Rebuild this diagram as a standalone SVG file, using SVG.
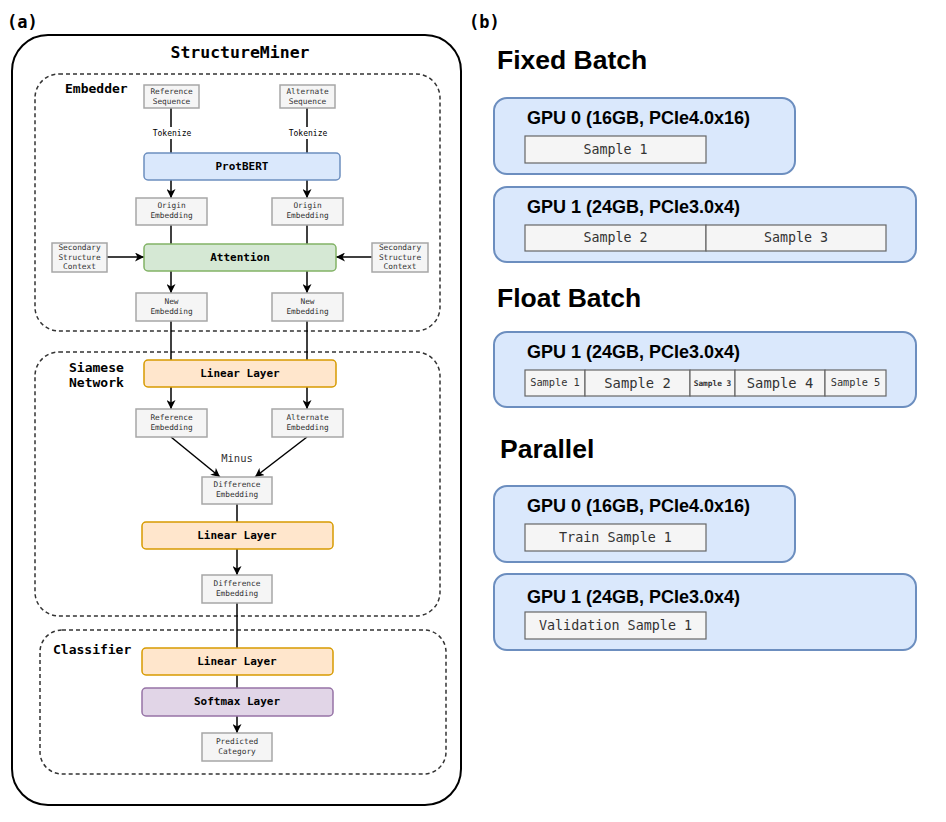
<svg xmlns="http://www.w3.org/2000/svg" width="946" height="822" viewBox="0 0 946 822">
<defs>
<marker id="arr" markerWidth="9" markerHeight="9" refX="9" refY="4.5" orient="auto" markerUnits="userSpaceOnUse">
<path d="M0,0 L9,4.5 L0,9 L2.5,4.5 z" fill="#000"/>
</marker>
</defs>
<style>
.mono{font-family:"DejaVu Sans Mono","Liberation Mono",monospace}
.sm{font-size:7.8px;fill:#333}
.b{font-weight:bold}
.lbl{font-size:13px;font-weight:bold;fill:#000}
.grp{fill:none;stroke:#333;stroke-width:1.5;stroke-dasharray:4 3}
.gbox{fill:#f5f5f5;stroke:#a6a6a6;stroke-width:1.5}
.blue{fill:#dae8fc;stroke:#6c8ebf;stroke-width:1.5}
.green{fill:#d5e8d4;stroke:#82b366;stroke-width:1.5}
.orange{fill:#ffe6cc;stroke:#d79b00;stroke-width:1.5}
.purple{fill:#e1d5e7;stroke:#9673a6;stroke-width:1.5}
.layer{font-size:11px;font-weight:bold;fill:#000}
.con{stroke:#000;stroke-width:1.5;fill:none}
.arrow{marker-end:url(#arr)}
.head{font-family:"Liberation Sans",Arial,sans-serif;font-weight:bold;fill:#000}
.gpu{fill:#dae8fc;stroke:#6c8ebf;stroke-width:2}
.cell{fill:#f5f5f5;stroke:#666;stroke-width:1.2}
.ct{fill:#333}
</style>
<rect width="946" height="822" fill="#fff"/>

<!-- panel a -->
<text class="mono b" x="7" y="28" font-size="17">(a)</text>
<g id="structureminer">
<rect x="12" y="35" width="449" height="770" rx="36" fill="none" stroke="#000" stroke-width="2"/>
<text class="mono b" x="240" y="58" font-size="16.5" text-anchor="middle">StructureMiner</text>
</g>

<g id="embedder">
<rect class="grp" x="35" y="74" width="405" height="257" rx="24"/>
<text class="mono lbl" x="65" y="93">Embedder</text>
</g>
<g id="siamese">
<rect class="grp" x="35" y="352" width="405" height="264" rx="24"/>
<text class="mono lbl" x="69" y="372">Siamese</text>
<text class="mono lbl" x="69" y="387">Network</text>
</g>
<g id="classifier">
<rect class="grp" x="40" y="630" width="406" height="144" rx="22"/>
<text class="mono lbl" x="53" y="654">Classifier</text>
</g>

<!-- connectors -->
<g id="connectors">
<path class="con" d="M171,108 V127 M171,139 V153"/>
<path class="con" d="M307,108 V127 M307,139 V153"/>
<path class="con arrow" d="M171,180 V198"/>
<path class="con arrow" d="M307,180 V198"/>
<path class="con" d="M171,225 V244"/>
<path class="con" d="M307,225 V244"/>
<path class="con arrow" d="M107,257 H144"/>
<path class="con arrow" d="M372,257 H336"/>
<path class="con arrow" d="M171,271 V293"/>
<path class="con arrow" d="M307,271 V293"/>
<path class="con" d="M171,321 V360"/>
<path class="con" d="M307,321 V360"/>
<path class="con arrow" d="M171,387 V409"/>
<path class="con arrow" d="M307,387 V409"/>
<path class="con arrow" d="M171,437 L220,477"/>
<path class="con arrow" d="M307,437 L255,477"/>
<path class="con" d="M237,504 V522"/>
<path class="con arrow" d="M237,549 V575"/>
<path class="con" d="M237,603 V648"/>
<path class="con" d="M237,675 V688"/>
<path class="con arrow" d="M237,716 V733"/>
<text class="mono" x="172" y="136" font-size="8" text-anchor="middle">Tokenize</text>
<text class="mono" x="308" y="136" font-size="8" text-anchor="middle">Tokenize</text>
<text class="mono" x="237" y="462" font-size="10.5" text-anchor="middle" fill="#333">Minus</text>
</g>

<g id="ref-seq">
<rect class="gbox" x="144" y="85" width="55" height="23"/>
<text class="mono sm" x="171.5" y="94" text-anchor="middle">Reference</text>
<text class="mono sm" x="171.5" y="104" text-anchor="middle">Sequence</text>
</g>
<g id="alt-seq">
<rect class="gbox" x="280" y="85" width="55" height="23"/>
<text class="mono sm" x="307.5" y="94" text-anchor="middle">Alternate</text>
<text class="mono sm" x="307.5" y="104" text-anchor="middle">Sequence</text>
</g>
<g id="protbert">
<rect class="blue" x="144" y="153" width="196" height="27" rx="4"/>
<text class="mono layer" x="242" y="170" text-anchor="middle">ProtBERT</text>
</g>
<g id="origin-left">
<rect class="gbox" x="136" y="198" width="71" height="27"/>
<text class="mono sm" x="171.5" y="208" text-anchor="middle">Origin</text>
<text class="mono sm" x="171.5" y="218" text-anchor="middle">Embedding</text>
</g>
<g id="origin-right">
<rect class="gbox" x="272" y="198" width="71" height="27"/>
<text class="mono sm" x="307.5" y="208" text-anchor="middle">Origin</text>
<text class="mono sm" x="307.5" y="218" text-anchor="middle">Embedding</text>
</g>
<g id="ssc-left">
<rect class="gbox" x="52" y="243" width="55" height="29"/>
<text class="mono sm" x="79.5" y="250" text-anchor="middle">Secondary</text>
<text class="mono sm" x="79.5" y="260" text-anchor="middle">Structure</text>
<text class="mono sm" x="79.5" y="269" text-anchor="middle">Context</text>
</g>
<g id="ssc-right">
<rect class="gbox" x="372" y="243" width="56" height="29"/>
<text class="mono sm" x="400" y="250" text-anchor="middle">Secondary</text>
<text class="mono sm" x="400" y="260" text-anchor="middle">Structure</text>
<text class="mono sm" x="400" y="269" text-anchor="middle">Context</text>
</g>
<g id="attention">
<rect class="green" x="144" y="244" width="192" height="27" rx="4"/>
<text class="mono layer" x="240" y="261" text-anchor="middle">Attention</text>
</g>
<g id="new-left">
<rect class="gbox" x="136" y="293" width="71" height="28"/>
<text class="mono sm" x="171.5" y="304" text-anchor="middle">New</text>
<text class="mono sm" x="171.5" y="314" text-anchor="middle">Embedding</text>
</g>
<g id="new-right">
<rect class="gbox" x="272" y="293" width="71" height="28"/>
<text class="mono sm" x="307.5" y="304" text-anchor="middle">New</text>
<text class="mono sm" x="307.5" y="314" text-anchor="middle">Embedding</text>
</g>
<g id="linear1">
<rect class="orange" x="144" y="360" width="192" height="27" rx="4"/>
<text class="mono layer" x="240" y="377" text-anchor="middle">Linear Layer</text>
</g>
<g id="ref-emb">
<rect class="gbox" x="136" y="409" width="71" height="28"/>
<text class="mono sm" x="171.5" y="420" text-anchor="middle">Reference</text>
<text class="mono sm" x="171.5" y="430" text-anchor="middle">Embedding</text>
</g>
<g id="alt-emb">
<rect class="gbox" x="272" y="409" width="71" height="28"/>
<text class="mono sm" x="307.5" y="420" text-anchor="middle">Alternate</text>
<text class="mono sm" x="307.5" y="430" text-anchor="middle">Embedding</text>
</g>
<g id="diff1">
<rect class="gbox" x="202" y="477" width="70" height="27"/>
<text class="mono sm" x="237" y="487" text-anchor="middle">Difference</text>
<text class="mono sm" x="237" y="497" text-anchor="middle">Embedding</text>
</g>
<g id="linear2">
<rect class="orange" x="142" y="522" width="191" height="27" rx="4"/>
<text class="mono layer" x="237" y="539" text-anchor="middle">Linear Layer</text>
</g>
<g id="diff2">
<rect class="gbox" x="202" y="575" width="70" height="28"/>
<text class="mono sm" x="237" y="586" text-anchor="middle">Difference</text>
<text class="mono sm" x="237" y="596" text-anchor="middle">Embedding</text>
</g>
<g id="linear3">
<rect class="orange" x="142" y="648" width="191" height="27" rx="4"/>
<text class="mono layer" x="237" y="665" text-anchor="middle">Linear Layer</text>
</g>
<g id="softmax">
<rect class="purple" x="142" y="688" width="191" height="28" rx="4"/>
<text class="mono layer" x="237" y="705" text-anchor="middle">Softmax Layer</text>
</g>
<g id="predicted">
<rect class="gbox" x="202" y="733" width="70" height="28"/>
<text class="mono sm" x="237" y="744" text-anchor="middle">Predicted</text>
<text class="mono sm" x="237" y="754" text-anchor="middle">Category</text>
</g>

<!-- panel b -->
<text class="mono b" x="469" y="28" font-size="17">(b)</text>
<text class="head" x="497" y="69" font-size="26.5">Fixed Batch</text>
<g id="fixed-gpu0">
<rect class="gpu" x="494" y="98" width="301" height="76" rx="13"/>
<text class="head" x="527" y="124" font-size="18">GPU 0 (16GB, PCIe4.0x16)</text>
<rect class="cell" x="525" y="136" width="181" height="27"/>
<text class="mono ct" x="615.5" y="154" font-size="13.3" text-anchor="middle">Sample 1</text>
</g>
<g id="fixed-gpu1">
<rect class="gpu" x="494" y="187" width="422" height="75" rx="13"/>
<text class="head" x="527" y="213" font-size="18">GPU 1 (24GB, PCIe3.0x4)</text>
<rect class="cell" x="525" y="225" width="181" height="26"/>
<rect class="cell" x="706" y="225" width="180" height="26"/>
<text class="mono ct" x="615.5" y="242" font-size="13.3" text-anchor="middle">Sample 2</text>
<text class="mono ct" x="796" y="242" font-size="13.3" text-anchor="middle">Sample 3</text>
</g>

<text class="head" x="497" y="307" font-size="26.5">Float Batch</text>
<g id="float-gpu1">
<rect class="gpu" x="494" y="332" width="422" height="75" rx="13"/>
<text class="head" x="527" y="358" font-size="18">GPU 1 (24GB, PCIe3.0x4)</text>
<rect class="cell" x="525" y="370" width="60" height="26"/>
<rect class="cell" x="585" y="370" width="105" height="26"/>
<rect class="cell" x="690" y="370" width="45" height="26"/>
<rect class="cell" x="735" y="370" width="90" height="26"/>
<rect class="cell" x="825" y="370" width="61" height="26"/>
<text class="mono ct" x="555" y="386" font-size="10.3" text-anchor="middle">Sample 1</text>
<text class="mono ct" x="637.5" y="388" font-size="13.8" text-anchor="middle">Sample 2</text>
<text class="mono ct b" x="712.5" y="386" font-size="7.8" text-anchor="middle">Sample 3</text>
<text class="mono ct" x="780" y="388" font-size="13.8" text-anchor="middle">Sample 4</text>
<text class="mono ct" x="855.5" y="386" font-size="10.3" text-anchor="middle">Sample 5</text>
</g>

<text class="head" x="500" y="458" font-size="26.5">Parallel</text>
<g id="parallel-gpu0">
<rect class="gpu" x="494" y="486" width="301" height="76" rx="13"/>
<text class="head" x="527" y="512" font-size="18">GPU 0 (16GB, PCIe4.0x16)</text>
<rect class="cell" x="525" y="524" width="181" height="27"/>
<text class="mono ct" x="615.5" y="542" font-size="13.4" text-anchor="middle">Train Sample 1</text>
</g>
<g id="parallel-gpu1">
<rect class="gpu" x="494" y="574" width="422" height="76" rx="13"/>
<text class="head" x="527" y="603" font-size="18">GPU 1 (24GB, PCIe3.0x4)</text>
<rect class="cell" x="525" y="612" width="181" height="27"/>
<text class="mono ct" x="615.5" y="630" font-size="13.4" text-anchor="middle">Validation Sample 1</text>
</g>
</svg>
